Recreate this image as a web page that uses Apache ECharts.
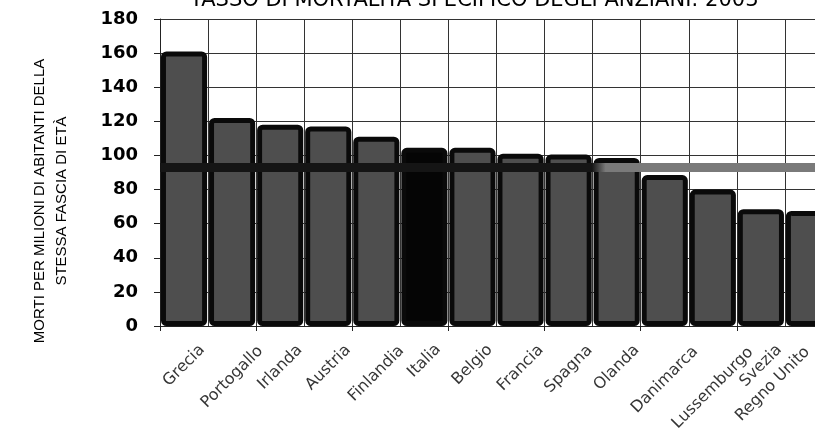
<!DOCTYPE html>
<html>
<head>
<meta charset="utf-8">
<script src="https://cdn.jsdelivr.net/npm/echarts@6/dist/echarts.min.js"></script>
<style>
html,body{margin:0;padding:0;background:#fff;}
#chart{width:815px;height:446px;}
</style>
</head>
<body>
<div id="chart"></div>
<script>
var titleText = "TASSO DI MORTALITÀ SPECIFICO DEGLI ANZIANI: 2003";
var yAxisTitle = "MORTI PER MILIONI DI ABITANTI DELLA\nSTESSA FASCIA DI ETÀ";
var categories = ["Grecia","Portogallo","Irlanda","Austria","Finlandia","Italia","Belgio","Francia","Spagna","Olanda","Danimarca","Lussemburgo","Svezia","Regno Unito"];
var values = [161, 122, 118, 117, 111, 104.5, 104.5, 101, 100.5, 98.5, 88.5, 80, 68.5, 67.5];
var highlightCategory = "Italia";
var averageValue = 93;
var yMin = 0, yMax = 180, yStep = 20;

var W = 815;
var gridLeft = 160, gridTop = 19, gridBottom = 120, gridWidth = 673;
var labelFontSize = 16, labelFont = 'DejaVu Sans';
var catW = gridWidth / categories.length;

var chart = echarts.init(document.getElementById('chart'), null, {renderer:'canvas'});
var seriesData = values.map(function(v, i){
  var hl = categories[i] === highlightCategory;
  return {value: v, itemStyle: {color: hl ? '#050505' : '#4e4e4e'}};
});

// label layout: rotated 45deg, centred under the category, kept inside the canvas
var mctx = document.createElement('canvas').getContext('2d');
mctx.font = labelFontSize + 'px "' + labelFont + '"';
var s2 = Math.SQRT2;
var labelData = categories.map(function(c, i){
  var L = mctx.measureText(c).width;
  var cx = gridLeft + catW * (i + 0.5);
  var hw = (L + labelFontSize) / s2 / 2;
  var dx = 0;
  if (cx + hw > W - 2) dx = (W - 2) - hw - cx;
  var dy = 19 + 0.4 * L;
  return {value: [c, 0], label: {offset: [(dx - dy) / s2, (dx + dy) / s2]}};
});

chart.setOption({
  animation: false,
  backgroundColor: '#ffffff',
  title: {
    text: titleText,
    left: 185, top: -15,
    textStyle: {fontFamily: 'DejaVu Sans', fontSize: 21, fontWeight: 'normal', color: '#000'}
  },
  graphic: [{
    type: 'text',
    x: 51, y: 201,
    rotation: Math.PI / 2,
    style: {
      text: yAxisTitle,
      fontFamily: 'Liberation Sans', fontSize: 15, lineHeight: 22,
      fill: '#000', align: 'center', verticalAlign: 'middle'
    }
  }],
  grid: {left: gridLeft, top: gridTop, bottom: gridBottom, width: gridWidth, outerBoundsMode: 'none', containLabel: false},
  xAxis: {
    type: 'category',
    data: categories,
    axisLine: {show: true, lineStyle: {color: '#222', width: 1}},
    axisTick: {show: true, length: 5, lineStyle: {color: '#222'}},
    splitLine: {show: true, interval: 0, lineStyle: {color: '#333', width: 1}},
    axisLabel: {show: false}
  },
  yAxis: {
    type: 'value',
    min: yMin, max: yMax, interval: yStep,
    axisLine: {show: true, lineStyle: {color: '#222', width: 1}},
    axisTick: {show: true, length: 6, lineStyle: {color: '#222'}},
    splitLine: {show: true, lineStyle: {color: '#333', width: 1}},
    axisLabel: {
      margin: 22,
      fontFamily: 'DejaVu Sans', fontSize: 18, fontWeight: 'bold', color: '#000'
    }
  },
  series: [{
    type: 'bar',
    data: seriesData,
    barCategoryGap: '4%',
    itemStyle: {borderColor: '#0a0a0a', borderWidth: 5, borderRadius: 3},
    markLine: {
      silent: true,
      symbol: ['none','none'],
      label: {show: false},
      lineStyle: {
        type: 'solid', width: 9,
        color: new echarts.graphic.LinearGradient(0, 0, 1, 0, [
          {offset: 0, color: '#151515'},
          {offset: 0.64, color: '#151515'},
          {offset: 0.66, color: '#7a7a7a'},
          {offset: 1, color: '#7a7a7a'}
        ])
      },
      data: [{yAxis: averageValue}]
    }
  }, {
    type: 'scatter',
    data: labelData,
    symbolSize: 0,
    silent: true,
    clip: false,
    label: {
      show: true,
      formatter: function(p){ return p.value[0]; },
      position: 'inside',
      rotate: 45,
      align: 'center',
      verticalAlign: 'middle',
      fontFamily: labelFont, fontSize: labelFontSize, color: '#000'
    }
  }]
});
</script>
</body>
</html>
